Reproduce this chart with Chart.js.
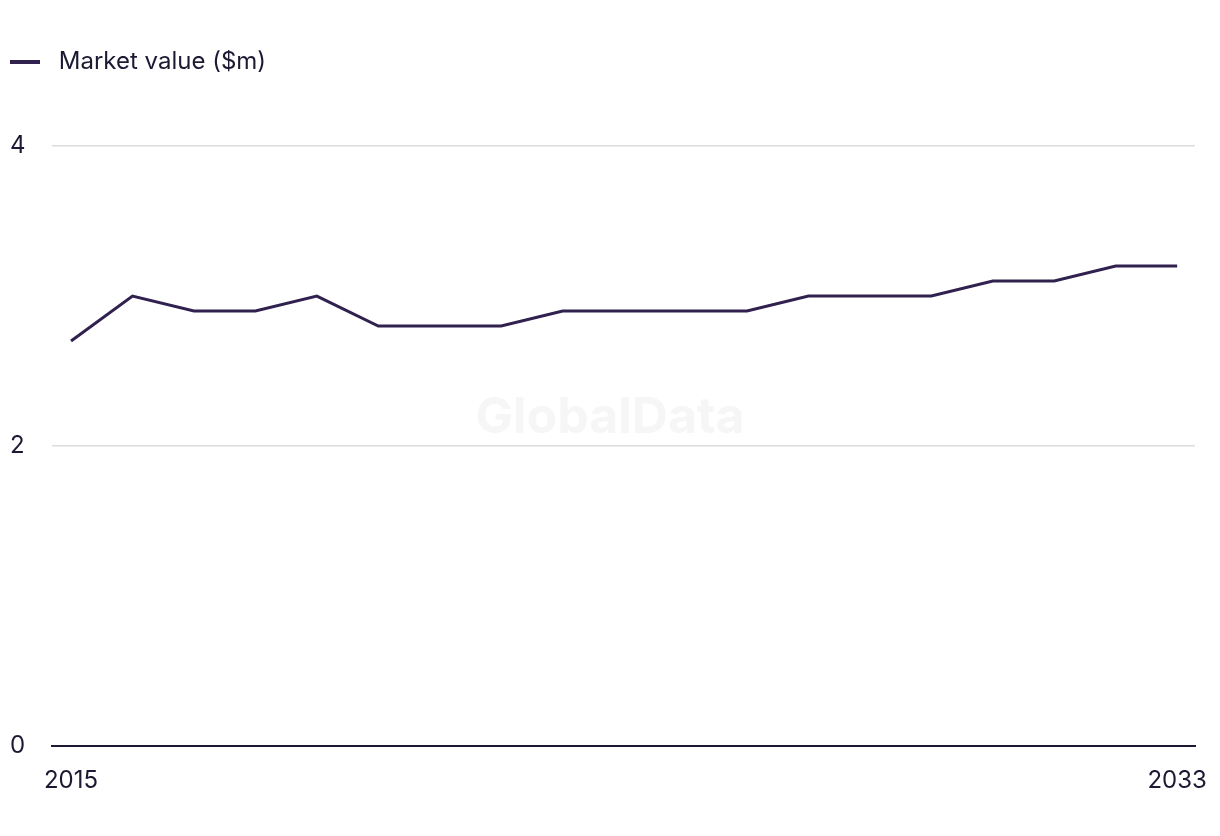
<!DOCTYPE html>
<html>
<head>
<meta charset="utf-8">
<script src="https://cdn.jsdelivr.net/npm/chart.js@4/dist/chart.umd.min.js"></script>
<style>
    html, body { margin: 0; padding: 0; background: #fff; }
    #wrap { width: 1220px; height: 836px; }
</style>
</head>
<body>
<div id="wrap"><canvas id="myChart"></canvas></div>
<script>
const years = [2015, 2016, 2017, 2018, 2019, 2020, 2021, 2022, 2023, 2024,
               2025, 2026, 2027, 2028, 2029, 2030, 2031, 2032, 2033];
const marketValue = [2.7, 3.0, 2.9, 2.9, 3.0, 2.8, 2.8, 2.8, 2.9, 2.9,
                     2.9, 2.9, 3.0, 3.0, 3.0, 3.1, 3.1, 3.2, 3.2];
const xTicks = [2015, 2033];
const yTicks = [0, 2, 4];

const textColor = '#1c1a33';
const lineColor = '#31214f';
const fontFamily = 'Inter, "Liberation Sans", Arial, sans-serif';

// watermark in the middle of the plot
const watermark = {
    id: 'watermark',
    beforeDatasetsDraw(chart) {
        const c = chart.ctx;
        c.save();
        c.font = 'bold 50px ' + fontFamily;
        c.fillStyle = '#f6f6f6';
        c.textAlign = 'center';
        c.textBaseline = 'middle';
        c.fillText('GlobalData', 610, 418);
        c.restore();
    }
};

// give the legend extra room below it
const legendSpace = {
    id: 'legendSpace',
    beforeInit(chart) {
        const fit = chart.legend.fit;
        chart.legend.fit = function () {
            fit.bind(chart.legend)();
            this.height += 62;
        };
    }
};

let ctx = document.getElementById('myChart').getContext('2d');
let chart = new Chart(ctx, {
    type: 'line',
    data: {
        datasets: [{
            label: 'Market value ($m)',
            data: years.map((y, i) => ({ x: y, y: marketValue[i] })),
            borderColor: lineColor,
            backgroundColor: lineColor,
            borderWidth: 3,
            pointRadius: 0,
            tension: 0
        }]
    },
    options: {
        responsive: true,
        maintainAspectRatio: false,
        animation: false,
        layout: { padding: { left: 10, right: 25, top: 50, bottom: 21 } },
        plugins: {
            legend: {
                position: 'top',
                align: 'start',
                labels: {
                    boxWidth: 30,
                    boxHeight: 4,
                    padding: 0,
                    color: textColor,
                    font: { family: fontFamily, size: 24 },
                    generateLabels: chart => {
                        const items = Chart.defaults.plugins.legend.labels.generateLabels(chart);
                        items.forEach(it => {
                            it.text = ' ' + it.text;
                            it.lineWidth = 0;
                            it.fillStyle = lineColor;
                        });
                        return items;
                    }
                }
            },
            tooltip: { enabled: false }
        },
        scales: {
            x: {
                type: 'linear',
                min: 2014.69,
                max: 2033.29,
                afterBuildTicks: axis => { axis.ticks = xTicks.map(v => ({ value: v })); },
                afterFit: axis => { axis.paddingLeft = 0; axis.paddingRight = 0; },
                grid: { display: false, drawTicks: false },
                border: { display: true, color: textColor, width: 2 },
                ticks: {
                    color: textColor,
                    padding: 20,
                    maxRotation: 0,
                    font: { family: fontFamily, size: 24 },
                    callback: v => String(v)
                }
            },
            y: {
                min: 0,
                max: 4,
                afterBuildTicks: axis => { axis.ticks = yTicks.map(v => ({ value: v })); },
                afterFit: axis => { axis.width = 42; },
                grid: { color: '#dcdcdc', lineWidth: 1.5, drawTicks: false },
                border: { display: false },
                ticks: {
                    color: textColor,
                    crossAlign: 'far',
                    padding: 0,
                    font: { family: fontFamily, size: 24 }
                }
            }
        }
    },
    plugins: [watermark, legendSpace]
});
</script>
</body>
</html>
